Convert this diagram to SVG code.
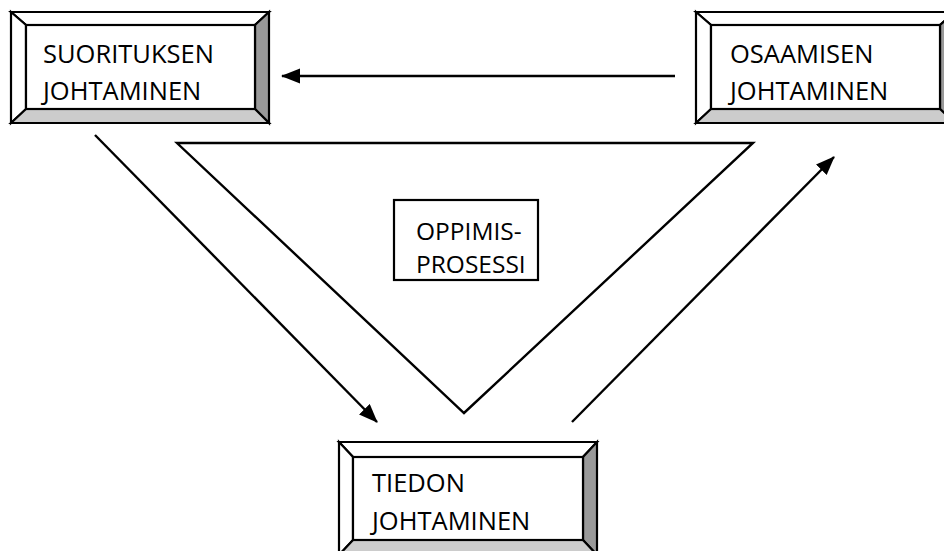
<svg xmlns="http://www.w3.org/2000/svg" width="944" height="551" viewBox="0 0 944 551">
  <style>
    .edge { stroke: #000; stroke-width: 2.4; fill: none; }
    .bev { stroke: #000; stroke-width: 2.2; stroke-linejoin: miter; }
    .lt { fill: #ffffff; }
    .dk { fill: #999999; }
    .md { fill: #cccccc; }
    .face { fill: #ffffff; stroke: #000; stroke-width: 2.2; }
    .lbl { font-family: "Open Sans", "Liberation Sans", sans-serif; font-size: 25.5px; fill: #000; }
    .lbl2 { font-family: "Open Sans", "Liberation Sans", sans-serif; font-size: 24.5px; fill: #000; }
  </style>
  <defs>
    <marker id="head" markerUnits="userSpaceOnUse" markerWidth="20" markerHeight="16" refX="18" refY="7.5" orient="auto">
      <path d="M0,0 L19,7.5 L0,15 Z" fill="#000"/>
    </marker>
  </defs>
  <rect width="944" height="551" fill="#fff"/>

  <!-- central learning-process triangle -->
  <g id="triangle">
    <polygon class="edge" points="177,143 753,143 464,413"/>
  </g>

  <g id="connectors">
    <line class="edge" x1="675" y1="76" x2="282" y2="76" marker-end="url(#head)"/>
    <line class="edge" x1="95" y1="135" x2="377" y2="422" marker-end="url(#head)"/>
    <line class="edge" x1="572" y1="422" x2="834" y2="157" marker-end="url(#head)"/>
  </g>

  <!-- bevelled node: performance management -->
  <g id="suorituksen">
    <polygon class="bev lt" points="11,12 269,12 255,25 26,25"/>
    <polygon class="bev lt" points="11,12 26,25 26,109 11,123"/>
    <polygon class="bev dk" points="269,12 269,123 255,109 255,25"/>
    <polygon class="bev md" points="11,123 26,109 255,109 269,123"/>
    <rect class="face" x="26" y="25" width="229" height="84"/>
    <text class="lbl" x="43" y="63">SUORITUKSEN</text>
    <text class="lbl" x="43" y="100">JOHTAMINEN</text>
  </g>

  <!-- bevelled node: competence management -->
  <g id="osaamisen">
    <polygon class="bev lt" points="696,12 955,12 940,25 711,25"/>
    <polygon class="bev lt" points="696,12 711,25 711,109 696,123"/>
    <polygon class="bev dk" points="955,12 955,123 940,109 940,25"/>
    <polygon class="bev md" points="696,123 711,109 940,109 955,123"/>
    <rect class="face" x="711" y="25" width="229" height="84"/>
    <text class="lbl" x="730" y="63">OSAAMISEN</text>
    <text class="lbl" x="730" y="100">JOHTAMINEN</text>
  </g>

  <!-- bevelled node: knowledge management -->
  <g id="tiedon">
    <polygon class="bev lt" points="339,442 597,442 583,457 353,457"/>
    <polygon class="bev lt" points="339,442 353,457 353,540 339,555"/>
    <polygon class="bev dk" points="597,442 597,555 583,540 583,457"/>
    <polygon class="bev md" points="339,555 353,540 583,540 597,555"/>
    <rect class="face" x="353" y="457" width="230" height="83"/>
    <text class="lbl" x="372" y="492">TIEDON</text>
    <text class="lbl" x="372" y="530">JOHTAMINEN</text>
  </g>

  <!-- plain node: learning process -->
  <g id="oppimisprosessi">
    <rect class="face" x="394" y="200" width="144" height="80"/>
    <text class="lbl2" x="416" y="240">OPPIMIS-</text>
    <text class="lbl2" x="416" y="273">PROSESSI</text>
  </g>
</svg>
